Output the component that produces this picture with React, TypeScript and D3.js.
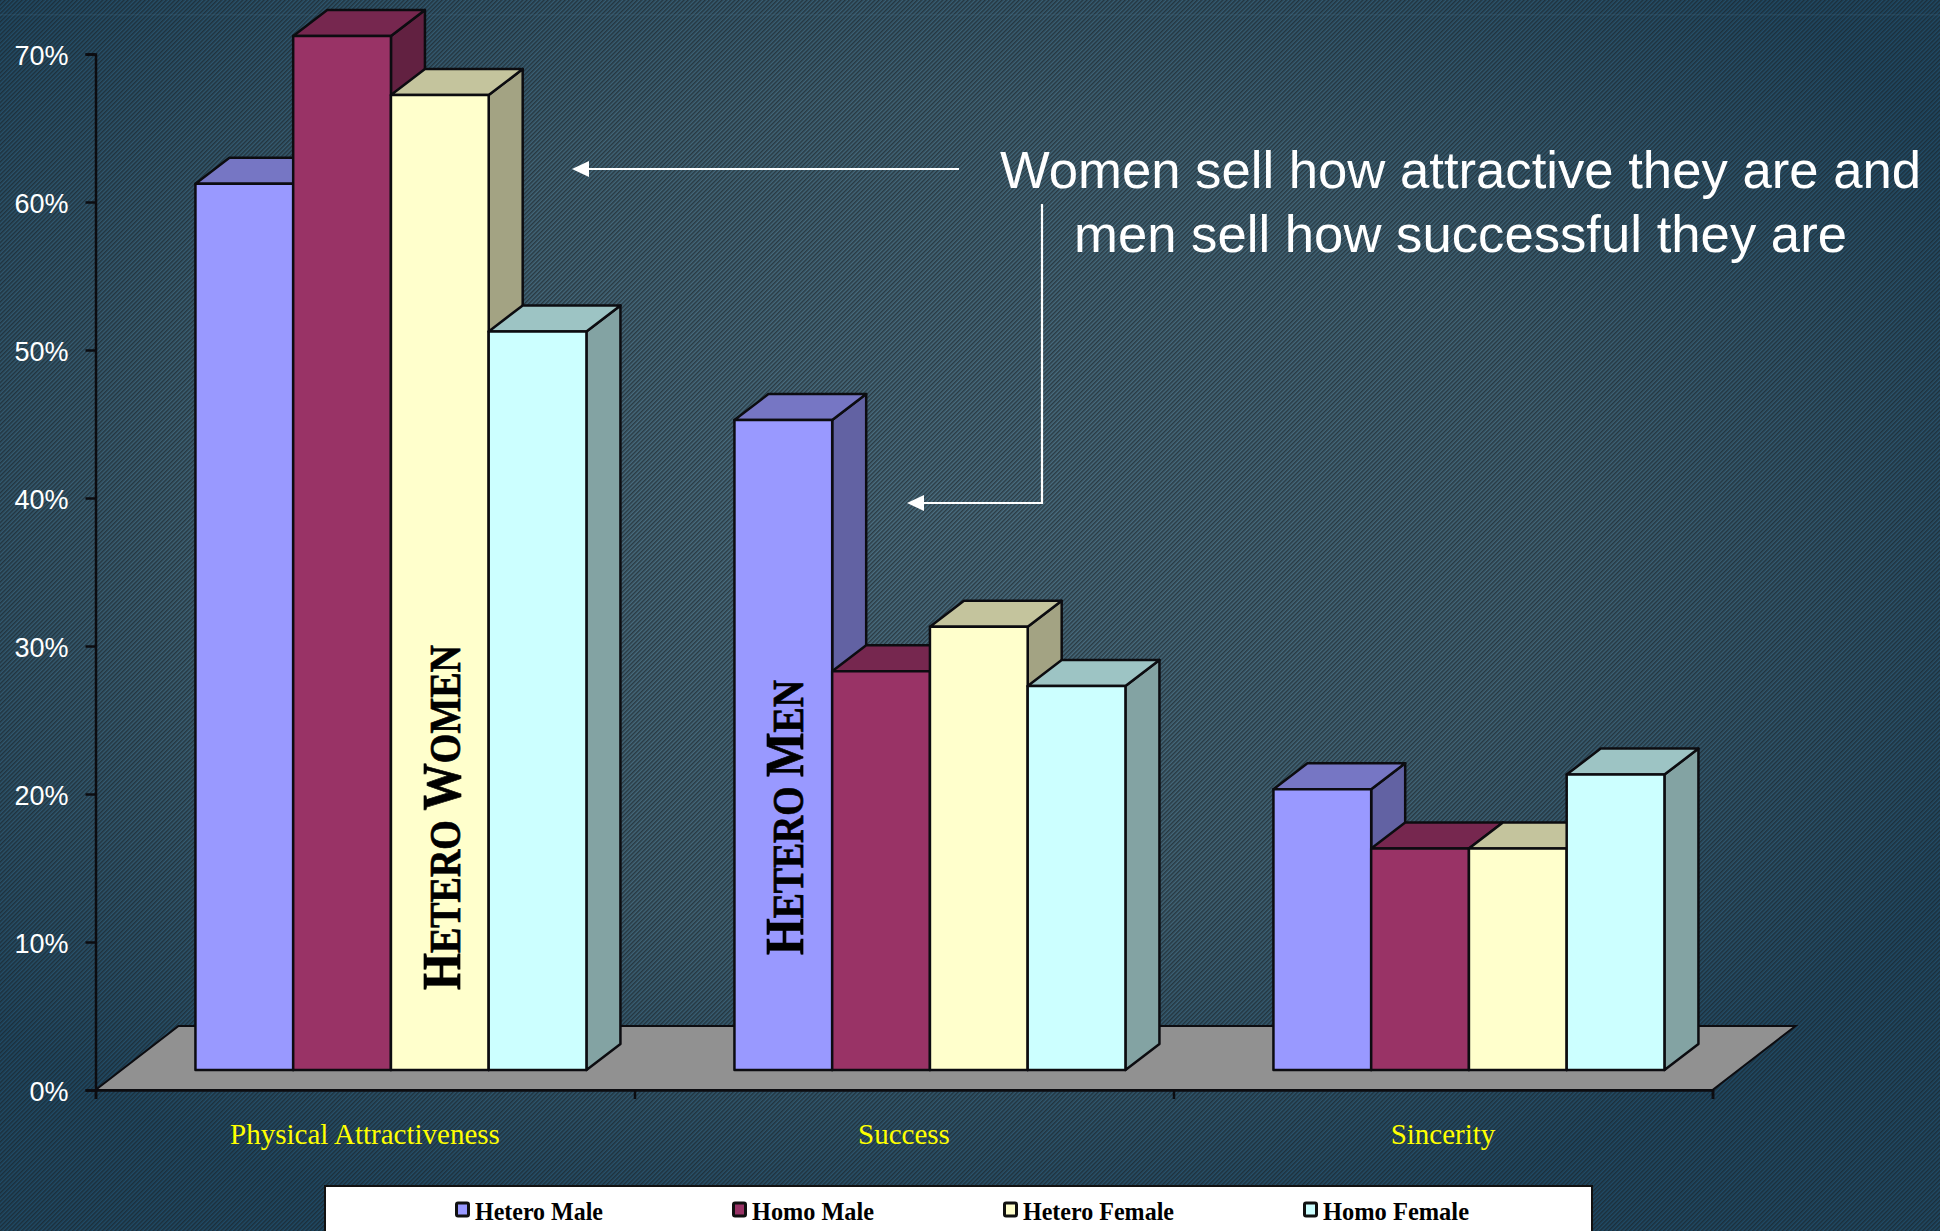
import * as d3 from "d3";
import { useEffect, useRef } from "react";

const categories = ["Physical Attractiveness", "Success", "Sincerity"];
const seriesNames = ["Hetero Male", "Homo Male", "Hetero Female", "Homo Female"];
const heteroMale = [60, 44, 19];
const homoMale = [70, 27, 15];
const heteroFemale = [66, 30, 15];
const homoFemale = [50, 26, 20];
const seriesValues = [heteroMale, homoMale, heteroFemale, homoFemale];
const seriesColors = ["#9999ff", "#993366", "#ffffcc", "#ccffff"];
const yTicks = [0, 10, 20, 30, 40, 50, 60, 70];

export default function App() {
  const ref = useRef<SVGSVGElement | null>(null);

  useEffect(() => {
    const svg = d3.select(ref.current as unknown as SVGSVGElement);
    svg.selectAll("*").remove();

    const width = 1940;
    const height = 1231;
    const left = 95.5;
    const right = 1712.5;
    const edge = "#0c0c10";

    const defs = svg.append("defs");
    const grad = defs
      .append("radialGradient")
      .attr("id", "bg")
      .attr("cx", 0.46)
      .attr("cy", 0.42)
      .attr("r", 0.62);
    grad.append("stop").attr("offset", "0%").attr("stop-color", "#4b6f82");
    grad.append("stop").attr("offset", "55%").attr("stop-color", "#416578");
    grad.append("stop").attr("offset", "100%").attr("stop-color", "#1f4a66");
    const hatch = defs
      .append("pattern")
      .attr("id", "hatch")
      .attr("width", 3)
      .attr("height", 3)
      .attr("patternUnits", "userSpaceOnUse")
      .attr("patternTransform", "rotate(45)");
    hatch.append("rect").attr("width", 1.5).attr("height", 3).attr("fill", "#1a2024").attr("opacity", 0.65);

    svg.append("rect").attr("width", width).attr("height", height).attr("fill", "url(#bg)");
    svg.append("rect").attr("width", width).attr("height", height).attr("fill", "url(#hatch)");
    svg.append("rect").attr("y", 14).attr("width", width).attr("height", 1.5).attr("fill", "#4a7088").attr("opacity", 0.2);

    const y = d3.scaleLinear().domain([0, 70]).range([1090, 54]);
    const yBar = d3.scaleLinear().domain([0, 70]).range([1070, 36]);
    const xEdges = d3.scaleLinear().domain([0, 3]).range([left, right]);
    const x0 = d3.scaleBand<string>().domain(categories).range([left, right]);
    const barsWidth = 391;
    const x1 = d3.scaleBand<string>().domain(seriesNames).range([0, barsWidth]);

    // floor
    const floorDx = 83;
    const floorDy = 64;
    const floor = d3.line<[number, number]>();
    svg
      .append("path")
      .attr(
        "d",
        floor([
          [left, y(0)],
          [right, y(0)],
          [right + floorDx, y(0) - floorDy],
          [left + floorDx, y(0) - floorDy],
        ]) + "Z"
      )
      .attr("fill", "#919191")
      .attr("stroke", edge)
      .attr("stroke-width", 2);

    // axes
    const yAxis = svg
      .append("g")
      .attr("transform", `translate(${left},0)`)
      .call(
        d3
          .axisLeft(y)
          .tickValues(yTicks)
          .tickSize(10)
          .tickPadding(17)
          .tickFormat((d: d3.NumberValue) => `${d}%`)
      );
    yAxis.selectAll("path,line").attr("stroke", edge).attr("stroke-width", 2.5);
    yAxis
      .selectAll("text")
      .attr("dy", "0.37em")
      .attr("font-family", "'Liberation Sans', Arial, sans-serif")
      .attr("font-size", "27px")
      .attr("fill", "#fff");

    const xAxis = svg
      .append("g")
      .attr("transform", `translate(0,${y(0)})`)
      .call(d3.axisBottom(xEdges).tickValues([0, 1, 2, 3]).tickSize(9).tickFormat(() => ""));
    xAxis.selectAll("path,line").attr("stroke", edge).attr("stroke-width", 2.5);

    svg
      .append("g")
      .selectAll("text")
      .data(categories)
      .enter()
      .append("text")
      .attr("x", (d) => (x0(d) as number) + x0.bandwidth() / 2)
      .attr("y", 1144)
      .attr("text-anchor", "middle")
      .attr("font-family", "'Liberation Serif', 'Times New Roman', serif")
      .attr("font-size", "29px")
      .attr("fill", "#ffff00")
      .text((d) => d);

    // 3d bars
    const shift = (20 * floorDx) / floorDy;
    const depthX = 34;
    const depthY = 26;
    const barColumn = (c: string) => (x0(c) as number) + x0.bandwidth() / 2 + shift - barsWidth / 2;
    const bars = svg.append("g").attr("stroke", edge).attr("stroke-width", 2.5).attr("stroke-linejoin", "round");

    categories.forEach((c, ci) => {
      seriesNames.forEach((s, si) => {
        const v = seriesValues[si][ci];
        const color = d3.rgb(seriesColors[si]);
        const xa = barColumn(c) + (x1(s) as number);
        const xb = xa + x1.bandwidth();
        const top = yBar(v);
        const bottom = yBar(0);
        const g = bars.append("g");
        const shade = (k: number) => d3.rgb(color.r * k, color.g * k, color.b * k).formatHex();
        g.append("path")
          .attr("d", `M${xb},${top}L${xb + depthX},${top - depthY}L${xb + depthX},${bottom - depthY}L${xb},${bottom}Z`)
          .attr("fill", shade(0.64));
        g.append("path")
          .attr("d", `M${xa},${top}L${xa + depthX},${top - depthY}L${xb + depthX},${top - depthY}L${xb},${top}Z`)
          .attr("fill", shade(0.77));
        g.append("rect")
          .attr("x", xa)
          .attr("y", top)
          .attr("width", xb - xa)
          .attr("height", bottom - top)
          .attr("fill", seriesColors[si]);
      });
    });

    // small caps labels on the bars
    const capsLabel = (baseX: number, baseY: number, parts: string[], len: number) => {
      const t = svg
        .append("text")
        .attr("transform", `translate(${baseX},${baseY}) rotate(-90)`)
        .attr("font-family", "'Liberation Serif', 'Times New Roman', serif")
        .attr("font-weight", "bold")
        .attr("fill", "#000")
        .attr("stroke", "#000")
        .attr("stroke-width", 0.7)
        .attr("textLength", len)
        .attr("lengthAdjust", "spacingAndGlyphs");
      parts.forEach((part, i) => {
        t.append("tspan")
          .attr("font-size", i % 2 === 0 ? "55px" : "44px")
          .text(part);
      });
    };
    capsLabel(460, 990, ["H", "ETERO ", "W", "OMEN"], 345);
    capsLabel(803, 955, ["H", "ETERO ", "M", "EN"], 275);

    // annotation
    const note = svg
      .append("g")
      .attr("font-family", "'Liberation Sans', Arial, sans-serif")
      .attr("font-size", "52px")
      .attr("fill", "#fff");
    note.append("text").attr("x", 1000).attr("y", 188).attr("textLength", 921).attr("lengthAdjust", "spacingAndGlyphs").text("Women sell how attractive they are and");
    note.append("text").attr("x", 1074).attr("y", 252).attr("textLength", 773).attr("lengthAdjust", "spacingAndGlyphs").text("men sell how successful they are");

    const arrow = d3.line<[number, number]>();
    const arrows = svg.append("g");
    arrows
      .append("path")
      .attr("d", arrow([[959, 169], [585, 169]]) as string)
      .attr("fill", "none")
      .attr("stroke", "#fff")
      .attr("stroke-width", 2.2);
    arrows
      .append("path")
      .attr("d", (arrow([[572, 169], [589, 161], [589, 177]]) as string) + "Z")
      .attr("fill", "#fff");
    arrows
      .append("path")
      .attr("d", arrow([[1042, 204], [1042, 503], [920, 503]]) as string)
      .attr("fill", "none")
      .attr("stroke", "#fff")
      .attr("stroke-width", 2.2);
    arrows
      .append("path")
      .attr("d", (arrow([[907, 503], [924, 495], [924, 511]]) as string) + "Z")
      .attr("fill", "#fff");

    // legend
    svg
      .append("rect")
      .attr("x", 325)
      .attr("y", 1186)
      .attr("width", 1267)
      .attr("height", 60)
      .attr("fill", "#fff")
      .attr("stroke", "#111")
      .attr("stroke-width", 2);
    const legendX = [455, 732, 1003, 1303];
    const legendLen = [128, 122, 151, 146];
    const legend = svg
      .append("g")
      .selectAll("g")
      .data(seriesNames)
      .enter()
      .append("g")
      .attr("transform", (_, i) => `translate(${legendX[i]},0)`);
    legend
      .append("rect")
      .attr("x", 1.5)
      .attr("y", 1203)
      .attr("width", 12)
      .attr("height", 13)
      .attr("rx", 1.5)
      .attr("fill", (_, i) => seriesColors[i])
      .attr("stroke", "#111")
      .attr("stroke-width", 3);
    legend
      .append("text")
      .attr("x", 20)
      .attr("y", 1220)
      .attr("font-family", "'Liberation Serif', 'Times New Roman', serif")
      .attr("font-size", "25px")
      .attr("font-weight", "bold")
      .attr("fill", "#000")
      .attr("textLength", (_, i) => legendLen[i])
      .attr("lengthAdjust", "spacingAndGlyphs")
      .text((d) => d);
  }, []);

  return (
    <svg
      ref={ref}
      width={1940}
      height={1231}
      viewBox="0 0 1940 1231"
      style={{ position: "absolute", left: 0, top: 0, display: "block" }}
    />
  );
}
